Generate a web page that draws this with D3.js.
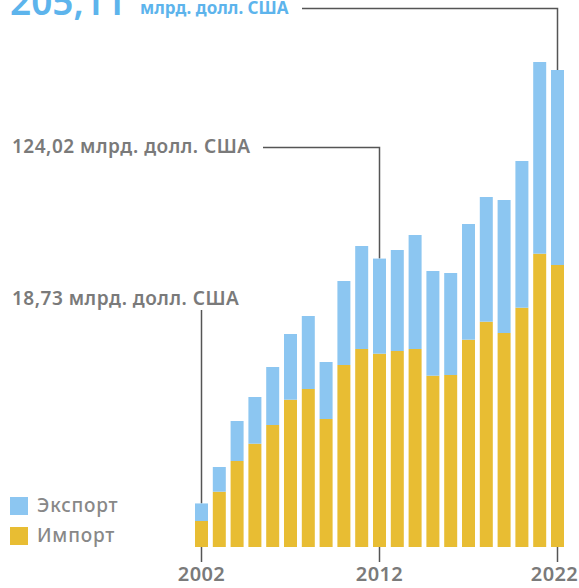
<!DOCTYPE html>
<html><head><meta charset="utf-8">
<script src="https://cdn.jsdelivr.net/npm/d3@7"></script>
<style>
html,body{margin:0;padding:0;background:#fff;}
svg{display:block;font-family:"Noto Sans",sans-serif;}
</style></head>
<body><svg id="c" width="579" height="588"></svg>
<script>
const years = [2002,2003,2004,2005,2006,2007,2008,2009,2010,2011,2012,2013,2014,2015,2016,2017,2018,2019,2020,2021,2022];
const importVals = [11.18,23.78,36.98,44.42,52.46,63.34,67.94,55.04,78.26,85.14,83.12,84.28,85.14,73.66,73.96,89.14,96.88,92.02,102.90,126.12,121.26];
const totalVals  = [18.73,34.40,54.18,64.50,77.40,91.59,99.33,79.55,114.38,129.43,124.02,127.71,134.16,118.68,117.82,138.89,150.50,149.21,165.98,208.55,205.11];
const exportVals = totalVals.map((t,i)=> +(t - importVals[i]).toFixed(2));
const seriesNames = ["Импорт","Экспорт"];
const seriesKeys = ["imp","exp"];
const tickYears = [2002,2012,2022];
const callouts = [
  {year:2002, value:18.73, text:"18,73 млрд. долл. США"},
  {year:2012, value:124.02, text:"124,02 млрд. долл. США"},
  {year:2022, value:205.11, big:"205,11", text:"млрд. долл. США"}
];

const colors = {imp:"#E8BD33", exp:"#8CC6F1"};
const svg = d3.select("#c");

const x = d3.scaleBand().domain(years).range([192.6,566.4]).paddingInner(0.27).paddingOuter(0.135);
const y = d3.scaleLinear().domain([0,205.11]).range([547,70]);

const rows = years.map((yr,i)=>({year:yr, imp:importVals[i], exp:exportVals[i]}));
const stack = d3.stack().keys(seriesKeys)(rows);

const lineColor = "#555";
const cx = yr => x(yr) + x.bandwidth()/2;
svg.append("line").attr("x1",cx(2002)).attr("x2",cx(2002)).attr("y1",310).attr("y2",y(18.73))
  .attr("stroke",lineColor).attr("stroke-width",1.5);
svg.append("path").attr("d",`M263,147.5H${cx(2012)}V${y(124.02)}`).attr("fill","none")
  .attr("stroke",lineColor).attr("stroke-width",1.5);
svg.append("path").attr("d",`M302,8.5H${cx(2022)}V${y(205.11)}`).attr("fill","none")
  .attr("stroke",lineColor).attr("stroke-width",1.5);

svg.append("g").selectAll("g").data(stack).join("g")
  .attr("fill",d=>colors[d.key])
  .selectAll("rect").data(d=>d).join("rect")
  .attr("x",d=>x(d.data.year)).attr("width",x.bandwidth())
  .attr("y",d=>y(d[1])).attr("height",d=>y(d[0])-y(d[1]));

const ax = svg.append("g").attr("transform","translate(0,547)")
  .call(d3.axisBottom(x).tickValues(tickYears).tickSize(15).tickPadding(5).tickFormat(d=>String(d)));
ax.select(".domain").remove();
ax.selectAll(".tick line").attr("stroke",lineColor).attr("stroke-width",1.5);
ax.selectAll(".tick text").attr("fill","#7a7a7a").attr("font-size",20).attr("font-weight",600)
  .attr("letter-spacing",0.4).attr("font-family","'Noto Sans',sans-serif")
  .attr("dx",d=>d===2022?-3:0);

const labelStyle = s => s.attr("fill","#7a7a7a").attr("font-size",19).attr("font-weight",600).attr("letter-spacing",0.5);
svg.append("text").attr("x",12).attr("y",305).call(labelStyle).text(callouts[0].text);
svg.append("text").attr("x",12).attr("y",153).call(labelStyle).text(callouts[1].text);
svg.append("text").attr("x",10).attr("y",15).attr("fill","#5DB4EC").attr("font-size",37).attr("font-weight",600)
  .text(callouts[2].big);
svg.append("text").attr("x",140).attr("y",14).attr("fill","#5DB4EC").attr("font-size",17).attr("font-weight",700)
  .text(callouts[2].text);

const legend = [{key:"exp",name:seriesNames[1],y:497},{key:"imp",name:seriesNames[0],y:527}];
const lg = svg.append("g").selectAll("g").data(legend).join("g");
lg.append("rect").attr("x",10).attr("y",d=>d.y).attr("width",18).attr("height",18).attr("fill",d=>colors[d.key]);
lg.append("text").attr("x",37).attr("y",d=>d.y+15).attr("fill","#888").attr("font-size",19).attr("font-weight",500)
  .attr("letter-spacing",0.8).text(d=>d.name);
</script></body></html>
